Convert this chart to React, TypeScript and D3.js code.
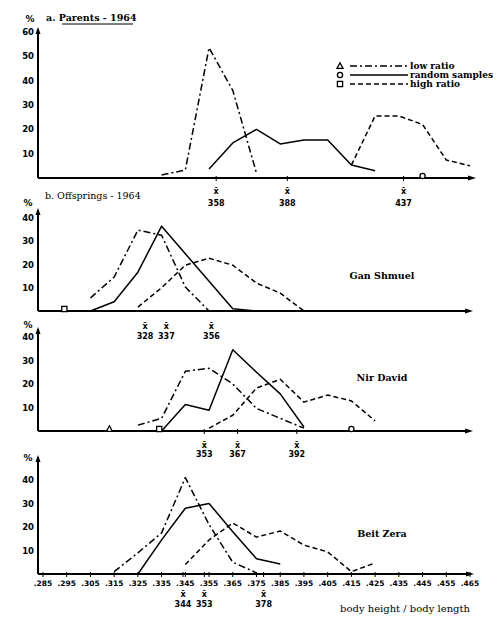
import React from "react";
import * as d3 from "d3";

// ---- data (x = body height / body length, in thousandths; y = %) ----
const xTickLabels = [".285", ".295", ".305", ".315", ".325", ".335", ".345", ".355", ".365", ".375", ".385", ".395", ".405", ".415", ".425", ".435", ".445", ".455", ".465"];
const xTickValues = [285, 295, 305, 315, 325, 335, 345, 355, 365, 375, 385, 395, 405, 415, 425, 435, 445, 455, 465];

// a. Parents 1964
const parentsLow: [number, number][] = [[335, 1.2], [345, 3.3], [355, 53.5], [365, 36], [375, 2]];
const parentsRandom: [number, number][] = [[355, 3.7], [365, 14.4], [375, 20], [385, 14], [395, 15.6], [405, 15.6], [415, 5.3], [425, 3]];
const parentsHigh: [number, number][] = [[415, 5.3], [425, 25.5], [435, 25.5], [445, 22], [455, 7.4], [465, 5]];
const parentsMeans = [358, 388, 437];
const parentsMarkers: [string, number][] = [["circle", 445]];

// Gan Shmuel
const gsLow: [number, number][] = [[305, 5.6], [315, 14.6], [325, 34.8], [335, 32.6], [345, 10.3], [355, 0]];
const gsRandom: [number, number][] = [[305, 0], [315, 4], [325, 16.7], [335, 36.5], [345, 24.6], [355, 12.8], [365, 1], [375, 0]];
const gsHigh: [number, number][] = [[325, 1.7], [335, 10], [345, 19.7], [355, 22.7], [365, 19.7], [375, 12], [385, 7.7], [395, 0]];
const gsMeans = [328, 337, 356];
const gsMarkers: [string, number][] = [["square", 294]];

// Nir David
const ndLow: [number, number][] = [[325, 2.5], [335, 5.4], [345, 25.4], [355, 26.7], [365, 20], [375, 9.6], [385, 5.4], [395, 1.2]];
const ndRandom: [number, number][] = [[335, 0], [345, 11.3], [355, 8.8], [365, 34.6], [375, 25], [385, 15.8], [395, 1.7]];
const ndHigh: [number, number][] = [[355, 1.2], [365, 6.7], [375, 18.3], [385, 22], [395, 12.3], [405, 15.3], [415, 12.8], [425, 4.3]];
const ndMeans = [353, 367, 392];
const ndMarkers: [string, number][] = [["triangle", 313], ["square", 334], ["circle", 415]];

// Beit Zera
const bzLow: [number, number][] = [[315, 1], [325, 9], [335, 17.5], [345, 41], [355, 21], [365, 5], [375, 0.5]];
const bzRandom: [number, number][] = [[325, 0], [335, 14.5], [345, 28], [355, 30], [365, 18], [375, 6.5], [385, 4.3]];
const bzHigh: [number, number][] = [[345, 4], [355, 14.5], [365, 21.7], [375, 15.7], [385, 18.3], [395, 12.3], [405, 9.4], [415, 1], [425, 4.7]];
const bzMeans = [344, 353, 378];
const bzMarkers: [string, number][] = [];

const legendLabels = ["low ratio", "random samples", "high ratio"];
const legendShapes = ["triangle", "circle", "square"];

// ---- layout ----
const x = d3.scaleLinear().domain([285, 465]).range([43, 470]);
const AXIS_X = 38;
const DASH: Record<string, string | undefined> = { low: "7,3,2,3", random: undefined, high: "5,3" };

const panels = [
  { key: "a", base: 178, max: 60, topPx: 32, ticks: [10, 20, 30, 40, 50, 60], arrowTop: 27, axisEnd: 476,
    low: parentsLow, random: parentsRandom, high: parentsHigh, means: parentsMeans, markers: parentsMarkers,
    name: "", nameY: 0, meanDy: [16, 28], meanTicks: true, pct: [30, 22] },
  { key: "gs", base: 311, max: 40, topPx: 218, ticks: [10, 20, 30, 40], arrowTop: 208, axisEnd: 473,
    low: gsLow, random: gsRandom, high: gsHigh, means: gsMeans, markers: gsMarkers,
    name: "Gan Shmuel", nameY: 279, meanDy: [18, 28], meanTicks: false, pct: [28, 206] },
  { key: "nd", base: 431, max: 40, topPx: 337, ticks: [10, 20, 30, 40], arrowTop: 327, axisEnd: 473,
    low: ndLow, random: ndRandom, high: ndHigh, means: ndMeans, markers: ndMarkers,
    name: "Nir David", nameY: 381, meanDy: [17, 26], meanTicks: true, pct: [28, 328] },
  { key: "bz", base: 574, max: 40, topPx: 480, ticks: [10, 20, 30, 40], arrowTop: 455, axisEnd: 474,
    low: bzLow, random: bzRandom, high: bzHigh, means: bzMeans, markers: bzMarkers,
    name: "Beit Zera", nameY: 537, meanDy: [23, 33], meanTicks: true, pct: [28, 461] },
];

const NUM_FONT = "'DejaVu Sans', sans-serif";
const SERIF = "'DejaVu Serif', serif";

function Marker({ shape, cx, cy }: { shape: string; cx: number; cy: number }) {
  if (shape === "circle") return <circle cx={cx} cy={cy} r={2.6} fill="#fff" stroke="#000" strokeWidth={1.3} />;
  if (shape === "square") return <rect x={cx - 2.6} y={cy - 2.6} width={5.2} height={5.2} fill="#fff" stroke="#000" strokeWidth={1.3} />;
  return <path d={`M${cx},${cy - 3.2} L${cx + 3},${cy + 2.4} L${cx - 3},${cy + 2.4} Z`} fill="#fff" stroke="#000" strokeWidth={1.3} />;
}

export default function App() {
  return (
    <svg width={500} height={632} style={{ position: "absolute", left: 0, top: 0, background: "#fff" }}>
      <rect width={500} height={632} fill="#fff" />
      {/* titles */}
      <text x={46} y={21} fontFamily={SERIF} fontWeight="bold" fontSize={9.5}>a.  Parents - 1964</text>
      <line x1={62} x2={133} y1={24} y2={24} stroke="#000" strokeWidth={1} />
      <text x={45} y={199} fontFamily={SERIF} fontSize={9.5}>b.  Offsprings - 1964</text>

      {/* legend */}
      {legendLabels.map((lab, i) => {
        const ly = 66 + i * 9;
        const key = ["low", "random", "high"][i];
        return (
          <g key={lab}>
            <Marker shape={legendShapes[i]} cx={340} cy={ly} />
            <line x1={350} x2={408} y1={ly} y2={ly} stroke="#000" strokeWidth={1.3} strokeDasharray={DASH[key]} />
            <text x={410} y={ly + 3} fontFamily={SERIF} fontWeight="bold" fontSize={9}>{lab}</text>
          </g>
        );
      })}

      {panels.map((p) => {
        const y = d3.scaleLinear().domain([0, p.max]).range([p.base, p.topPx]);
        const line = d3.line<[number, number]>().x((d) => x(d[0])).y((d) => y(d[1]));
        return (
          <g key={p.key}>
            {/* axes */}
            <line x1={AXIS_X} x2={AXIS_X} y1={p.base} y2={p.arrowTop + 2} stroke="#000" strokeWidth={2} />
            <path d={`M${AXIS_X},${p.arrowTop} l-2.5,7 l5,0 Z`} fill="#000" />
            <line x1={AXIS_X} x2={p.axisEnd - 4} y1={p.base} y2={p.base} stroke="#000" strokeWidth={2} />
            <path d={`M${p.axisEnd},${p.base} l-8,-2.5 l0,5 Z`} fill="#000" />
            <text x={p.pct[0]} y={p.pct[1]} fontFamily={NUM_FONT} fontWeight="bold" fontSize={9} textAnchor="middle">%</text>
            {p.ticks.map((t) => (
              <g key={t}>
                <text x={34} y={y(t) + 3} fontFamily={NUM_FONT} fontWeight="bold" fontSize={8.5} textAnchor="end">{t}</text>
              </g>
            ))}
            {/* series */}
            {(["low", "random", "high"] as const).map((k) => (
              <path key={k} d={line(p[k] as [number, number][]) || ""} fill="none" stroke="#000" strokeWidth={1.5}
                strokeDasharray={DASH[k]} strokeLinejoin="round" />
            ))}
            {/* markers on axis */}
            {p.markers.map(([shape, v], i) => (
              <Marker key={i} shape={shape} cx={x(v)} cy={p.base - 2} />
            ))}
            {/* means */}
            {p.means.map((m) => (
              <g key={m}>
                {p.meanTicks && <line x1={x(m)} x2={x(m)} y1={p.base - 2} y2={p.base + 3} stroke="#000" strokeWidth={1} />}
                <text x={x(m)} y={p.base + p.meanDy[0]} fontFamily={NUM_FONT} fontWeight="bold" fontSize={8} textAnchor="middle">x̄</text>
                <text x={x(m)} y={p.base + p.meanDy[1]} fontFamily={NUM_FONT} fontWeight="bold" fontSize={8} textAnchor="middle">{String(m)}</text>
              </g>
            ))}
            {p.name && (
              <text x={382} y={p.nameY} fontFamily={SERIF} fontWeight="bold" fontSize={9.5} textAnchor="middle">{p.name}</text>
            )}
          </g>
        );
      })}

      {/* bottom x tick labels */}
      {xTickValues.map((v, i) => (
        <g key={v}>
          <line x1={x(v)} x2={x(v)} y1={572} y2={577} stroke="#000" strokeWidth={1} />
          <text x={x(v)} y={586} fontFamily={NUM_FONT} fontWeight="bold" fontSize={7.5} textAnchor="middle">{xTickLabels[i]}</text>
        </g>
      ))}
      <text x={405} y={612} fontFamily={SERIF} fontSize={10} textAnchor="middle">body height / body length</text>
    </svg>
  );
}
